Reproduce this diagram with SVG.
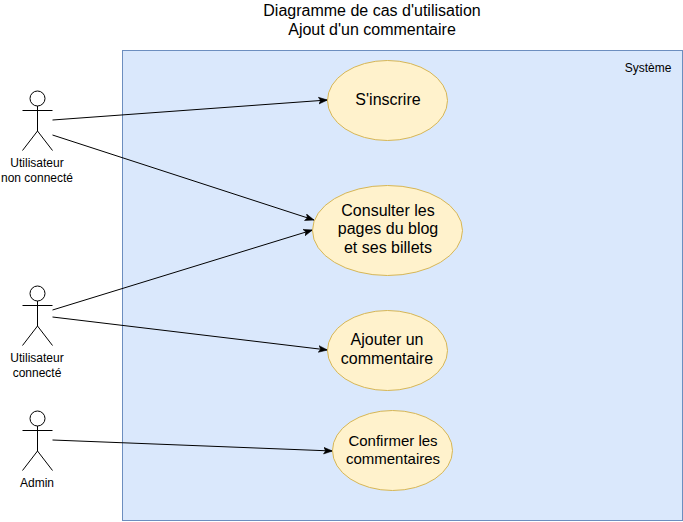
<svg xmlns="http://www.w3.org/2000/svg" width="683" height="522" viewBox="0 0 683 522">
<style>
text{font-family:"Liberation Sans",Arial,sans-serif;fill:#000;text-anchor:middle}
.t{font-size:16px}.u{font-size:16px}.a{font-size:12px}
.uc{fill:#fff2cc;stroke:#d6b656;stroke-width:1}
.actor{fill:none;stroke:#000;stroke-width:1}
.c{fill:none;stroke:#000;stroke-width:1;marker-end:url(#arrow)}
</style>
<defs>
<marker id="arrow" markerUnits="userSpaceOnUse" markerWidth="10" markerHeight="10" refX="8" refY="3" orient="auto" viewBox="0 0 9 6"><path d="M0 0L8 3L0 6L1.800 3Z" fill="#000" stroke="#000" stroke-width=".5"/></marker>
<g id="stick"><circle cx="37.5" cy="98.5" r="7.5" class="actor"/><path d="M37.5 106V131M22.5 110.500H52.500M37.500 131L22.500 150.500M37.500 131L52.500 150.500" class="actor"/></g>
</defs>
<rect width="683" height="522" fill="#fff"/>
<g id="titre"><text x="372" y="16" class="t">Diagramme de cas d'utilisation</text><text x="372" y="35" class="t">Ajout d'un commentaire</text></g>
<g id="systeme"><rect x="122.500" y="50.500" width="560" height="470" fill="#dae8fc" stroke="#6c8ebf"/><text x="648" y="72" class="a">Système</text></g>
<g id="connecteurs">
<path class="c" d="M52.500 120L327.500 100"/>
<path class="c" d="M52.500 135L314 220"/>
<path class="c" d="M52.500 310L312.500 230"/>
<path class="c" d="M52.500 317L327.500 350"/>
<path class="c" d="M52.500 440L332.500 451"/>
</g>
<g id="uc-inscrire"><ellipse class="uc" cx="387.500" cy="100.500" rx="60" ry="40"/><text x="388" y="105" class="u">S'inscrire</text></g>
<g id="uc-consulter"><ellipse class="uc" cx="387.500" cy="230.500" rx="75" ry="45"/><text x="388" y="216" class="u">Consulter les</text><text x="388" y="234" class="u">pages du blog</text><text x="388" y="253" class="u">et ses billets</text></g>
<g id="uc-ajouter"><ellipse class="uc" cx="387.500" cy="350.500" rx="60" ry="40"/><text x="387" y="345" class="u">Ajouter un</text><text x="387" y="364" class="u">commentaire</text></g>
<g id="uc-confirmer"><ellipse class="uc" cx="392.500" cy="450.500" rx="60" ry="40"/><text x="393" y="446" class="u" style="font-size:15px">Confirmer les</text><text x="393" y="464" class="u" style="font-size:15px">commentaires</text></g>
<g id="actor-non-connecte"><use href="#stick"/><text x="37" y="167" class="a">Utilisateur</text><text x="37" y="182" class="a">non connecté</text></g>
<g id="actor-connecte"><use href="#stick" y="195"/><text x="37" y="362" class="a">Utilisateur</text><text x="37" y="377" class="a">connecté</text></g>
<g id="actor-admin"><use href="#stick" y="320"/><text x="37" y="487" class="a">Admin</text></g>
</svg>
